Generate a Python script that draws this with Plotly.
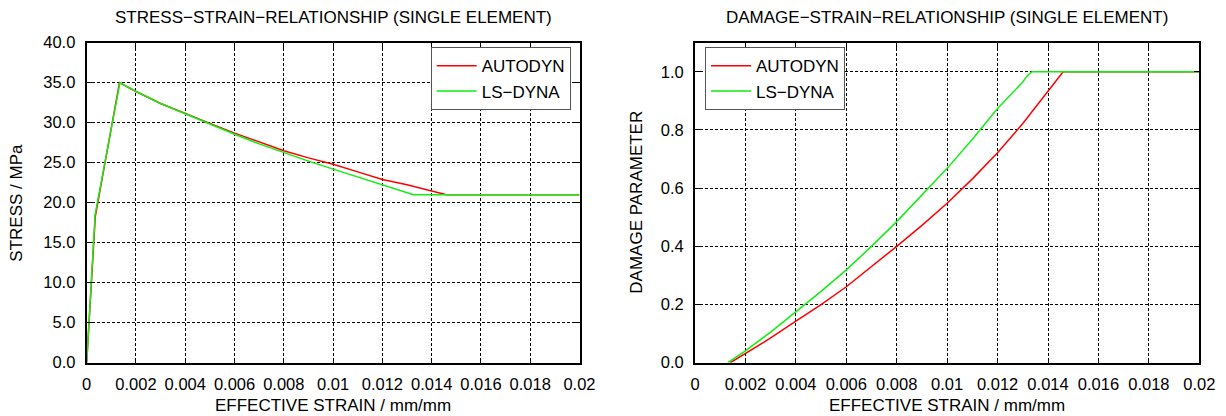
import plotly.graph_objects as go

# ---------------- data ----------------
# Stress-strain (left panel)
autodyn_stress_strain = [0, 0.00035, 0.00133, 0.002, 0.003, 0.004, 0.005, 0.006, 0.007,
                         0.008, 0.009, 0.010, 0.011, 0.012, 0.013, 0.014, 0.0146, 0.020]
autodyn_stress = [0.0, 18.3, 35.0, 33.9, 32.4, 31.1, 29.9, 28.7, 27.6,
                  26.5, 25.6, 24.8, 23.85, 22.9, 22.25, 21.45, 21.0, 21.0]

lsdyna_stress_strain = [0, 0.00034, 0.00135, 0.002, 0.003, 0.004, 0.005, 0.006, 0.007,
                        0.008, 0.009, 0.010, 0.011, 0.012, 0.013, 0.01326, 0.020]
lsdyna_stress = [0.0, 18.5, 35.0, 33.9, 32.4, 31.1, 29.8, 28.55, 27.35,
                 26.25, 25.2, 24.2, 23.2, 22.2, 21.25, 21.0, 21.0]

# Damage-strain (right panel)
autodyn_damage_strain = [0.0014, 0.002, 0.003, 0.004, 0.005, 0.006, 0.007, 0.008, 0.009,
                         0.010, 0.011, 0.012, 0.013, 0.014, 0.0146, 0.020]
autodyn_damage = [0.0, 0.032, 0.085, 0.143, 0.200, 0.261, 0.330, 0.400, 0.472,
                  0.548, 0.632, 0.722, 0.822, 0.931, 1.0, 1.0]

lsdyna_damage_strain = [0.0013, 0.002, 0.003, 0.004, 0.005, 0.006, 0.007, 0.008, 0.009,
                        0.010, 0.011, 0.012, 0.013, 0.01316, 0.01336, 0.020]
lsdyna_damage = [0.0, 0.041, 0.105, 0.175, 0.245, 0.319, 0.400, 0.485, 0.575,
                 0.668, 0.768, 0.874, 0.965, 0.985, 1.0, 1.0]

series_names = ["AUTODYN", "LS\u2212DYNA"]
titles = ["STRESS\u2212STRAIN\u2212RELATIONSHIP (SINGLE ELEMENT)",
          "DAMAGE\u2212STRAIN\u2212RELATIONSHIP (SINGLE ELEMENT)"]
xlabel = "EFFECTIVE STRAIN / mm/mm"
ylabels = ["STRESS / MPa", "DAMAGE PARAMETER"]

# ---------------- styling ----------------
OFF = 8  # page body margin in the browser
W, H = 1226 - OFF, 416 - OFF
RED = "#ff0000"
GREEN = "#11ee11"
FONT = "Liberation Sans, Arial, Helvetica, sans-serif"
TXT = 17
TICK = 16.5

def px_x(p):
    return (p - OFF) / W

def px_y(p):
    return 1 - (p - OFF) / H

left_dom = [px_x(86.7), px_x(579.5)]
right_dom = [px_x(695), px_x(1199.3)]
y_dom = [px_y(362.7), px_y(42.7)]

fig = go.Figure()

fig.add_trace(go.Scatter(x=autodyn_stress_strain, y=autodyn_stress, mode="lines",
                         name=series_names[0], line=dict(color=RED, width=1.5),
                         xaxis="x", yaxis="y", legend="legend"))
fig.add_trace(go.Scatter(x=lsdyna_stress_strain, y=lsdyna_stress, mode="lines",
                         name=series_names[1], line=dict(color=GREEN, width=1.5),
                         xaxis="x", yaxis="y", legend="legend"))
fig.add_trace(go.Scatter(x=autodyn_damage_strain, y=autodyn_damage, mode="lines",
                         name=series_names[0], line=dict(color=RED, width=1.5),
                         xaxis="x2", yaxis="y2", legend="legend2"))
fig.add_trace(go.Scatter(x=lsdyna_damage_strain, y=lsdyna_damage, mode="lines",
                         name=series_names[1], line=dict(color=GREEN, width=1.5),
                         xaxis="x2", yaxis="y2", legend="legend2"))

axis_common = dict(
    showline=True, mirror="ticks", linecolor="black", linewidth=2,
    showgrid=True, gridcolor="black", gridwidth=1, griddash="3px,2px",
    ticks="inside", ticklen=5, tickcolor="black", tickwidth=1,
    zeroline=False, tickfont=dict(family=FONT, size=TICK, color="black"),
    automargin=False,
)

legend_common = dict(
    bgcolor="white", bordercolor="#555555", borderwidth=1,
    font=dict(family=FONT, size=TXT), tracegroupgap=0, itemwidth=40,
    entrywidth=118, entrywidthmode="pixels",
)

fig.update_layout(
    width=W, height=H,
    margin=dict(l=0, r=0, t=0, b=0),
    paper_bgcolor="white", plot_bgcolor="white",
    font=dict(family=FONT, size=TXT, color="black"),
    xaxis=dict(domain=left_dom, anchor="y", range=[0, 0.02], dtick=0.002, tick0=0,
               ticklabelstandoff=5, **axis_common),
    yaxis=dict(domain=y_dom, anchor="x", range=[0, 40], dtick=5, tickformat=".1f",
               ticklabelstandoff=6, **axis_common),
    xaxis2=dict(domain=right_dom, anchor="y2", range=[0, 0.02], dtick=0.002, tick0=0,
                ticklabelstandoff=5, **axis_common),
    yaxis2=dict(domain=y_dom, anchor="x2", range=[0, 1.1], dtick=0.2, tickformat=".1f",
                ticklabelstandoff=6, **axis_common),
    legend=dict(x=px_x(570.7), y=px_y(47.3), xanchor="right", yanchor="top",
                **legend_common),
    legend2=dict(x=px_x(705), y=px_y(47.3), xanchor="left", yanchor="top",
                 **legend_common),
    showlegend=True,
)

ann = []
for cx, t in zip([(86.7 + 579.5) / 2, (695 + 1199.3) / 2], titles):
    ann.append(dict(x=px_x(cx), y=px_y(17), xref="paper", yref="paper", text=t,
                    showarrow=False, xanchor="center", yanchor="middle",
                    font=dict(family=FONT, size=TXT)))
    ann.append(dict(x=px_x(cx), y=px_y(405), xref="paper", yref="paper", text=xlabel,
                    showarrow=False, xanchor="center", yanchor="middle",
                    font=dict(family=FONT, size=TXT)))
for cx, t in zip([17, 637], ylabels):
    ann.append(dict(x=px_x(cx), y=px_y(202.7), xref="paper", yref="paper", text=t,
                    showarrow=False, xanchor="center", yanchor="middle", textangle=-90,
                    font=dict(family=FONT, size=TXT)))
fig.update_layout(annotations=ann)

fig.write_html("out.html")
